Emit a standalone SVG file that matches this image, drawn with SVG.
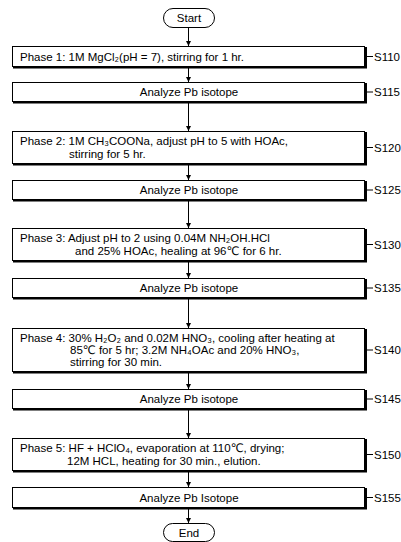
<svg xmlns="http://www.w3.org/2000/svg" width="401" height="542" viewBox="0 0 401 542">
<defs>
<marker id="ah" viewBox="0 0 6 6" refX="6" refY="3" markerWidth="5" markerHeight="5" orient="auto" markerUnits="userSpaceOnUse">
<path d="M0,0 L6,3 L0,6 Z" fill="#000"/>
</marker>
</defs>
<style>
text{font-family:"Liberation Sans","DejaVu Sans",Arial,sans-serif;font-size:11.5px;fill:#000}
.c{text-anchor:middle}
.box{fill:#fff;stroke:#000;stroke-width:1}
.sh{fill:none;stroke:#000;stroke-width:2}
.term{fill:#fff;stroke:#000;stroke-width:1}
.con{stroke:#000;stroke-width:1;fill:none}
.lab{stroke:#000;stroke-width:1}
</style>
<rect width="401" height="542" fill="#fff"/>
<g id="connectors">
<line class="con" x1="188.5" y1="27" x2="188.5" y2="46" marker-end="url(#ah)"/>
<line class="con" x1="188.5" y1="67" x2="188.5" y2="82" marker-end="url(#ah)"/>
<line class="con" x1="188.5" y1="102" x2="188.5" y2="131" marker-end="url(#ah)"/>
<line class="con" x1="188.5" y1="164" x2="188.5" y2="180" marker-end="url(#ah)"/>
<line class="con" x1="188.5" y1="200" x2="188.5" y2="228" marker-end="url(#ah)"/>
<line class="con" x1="188.5" y1="261" x2="188.5" y2="278" marker-end="url(#ah)"/>
<line class="con" x1="188.5" y1="298" x2="188.5" y2="328" marker-end="url(#ah)"/>
<line class="con" x1="188.5" y1="372" x2="188.5" y2="389" marker-end="url(#ah)"/>
<line class="con" x1="188.5" y1="409" x2="188.5" y2="438" marker-end="url(#ah)"/>
<line class="con" x1="188.5" y1="471" x2="188.5" y2="487" marker-end="url(#ah)"/>
<line class="con" x1="188.5" y1="508" x2="188.5" y2="523" marker-end="url(#ah)"/>
</g>
<g id="start">
<rect class="term" x="163.5" y="8.5" width="51" height="19" rx="9.5"/>
<text class="c" x="189" y="22">Start</text>
</g>
<g id="S110">
<rect class="box" x="12.5" y="46.5" width="352" height="20"/>
<path class="sh" d="M13,67.5 H366 V47"/>
<text x="20" y="60.5">Phase 1: 1M MgCl₂(pH = 7), stirring for 1 hr.</text>
<line class="lab" x1="366" y1="56.5" x2="373" y2="56.5"/>
<text x="374" y="60.5">S110</text>
</g>
<g id="S115">
<rect class="box" x="12.5" y="82.5" width="352" height="19"/>
<path class="sh" d="M13,102.5 H366 V83"/>
<text class="c" x="189" y="96">Analyze Pb isotope</text>
<line class="lab" x1="366" y1="92" x2="373" y2="92"/>
<text x="374" y="96">S115</text>
</g>
<g id="S120">
<rect class="box" x="12.5" y="131.5" width="352" height="32"/>
<path class="sh" d="M13,164.5 H366 V132"/>
<text x="20" y="145">Phase 2: 1M CH₃COONa, adjust pH to 5 with HOAc,</text>
<text x="69" y="157.5">stirring for 5 hr.</text>
<line class="lab" x1="366" y1="147.5" x2="373" y2="147.5"/>
<text x="374" y="151.5">S120</text>
</g>
<g id="S125">
<rect class="box" x="12.5" y="180.5" width="352" height="19"/>
<path class="sh" d="M13,200.5 H366 V181"/>
<text class="c" x="189" y="194">Analyze Pb isotope</text>
<line class="lab" x1="366" y1="190" x2="373" y2="190"/>
<text x="374" y="194">S125</text>
</g>
<g id="S130">
<rect class="box" x="12.5" y="228.5" width="352" height="32"/>
<path class="sh" d="M13,261.5 H366 V229"/>
<text x="20" y="242">Phase 3: Adjust pH to 2 using 0.04M NH₂OH.HCl</text>
<text x="75" y="254.5">and 25% HOAc, healing at 96℃ for 6 hr.</text>
<line class="lab" x1="366" y1="244.5" x2="373" y2="244.5"/>
<text x="374" y="248.5">S130</text>
</g>
<g id="S135">
<rect class="box" x="12.5" y="278.5" width="352" height="19"/>
<path class="sh" d="M13,298.5 H366 V279"/>
<text class="c" x="189" y="292">Analyze Pb isotope</text>
<line class="lab" x1="366" y1="288" x2="373" y2="288"/>
<text x="374" y="292">S135</text>
</g>
<g id="S140">
<rect class="box" x="12.5" y="328.5" width="352" height="43"/>
<path class="sh" d="M13,372.5 H366 V329"/>
<text x="20" y="341.5">Phase 4: 30% H₂O₂ and 0.02M HNO₃, cooling after heating at</text>
<text x="70" y="353.5">85℃ for 5 hr; 3.2M NH₄OAc and 20% HNO₃,</text>
<text x="70" y="365.5">stirring for 30 min.</text>
<line class="lab" x1="366" y1="350" x2="373" y2="350"/>
<text x="374" y="354">S140</text>
</g>
<g id="S145">
<rect class="box" x="12.5" y="389.5" width="352" height="19"/>
<path class="sh" d="M13,409.5 H366 V390"/>
<text class="c" x="189" y="403">Analyze Pb isotope</text>
<line class="lab" x1="366" y1="399" x2="373" y2="399"/>
<text x="374" y="403">S145</text>
</g>
<g id="S150">
<rect class="box" x="12.5" y="438.5" width="352" height="32"/>
<path class="sh" d="M13,471.5 H366 V439"/>
<text x="20" y="452">Phase 5: HF + HClO₄, evaporation at 110℃, drying;</text>
<text x="67" y="464.5">12M HCL, heating for 30 min., elution.</text>
<line class="lab" x1="366" y1="454.5" x2="373" y2="454.5"/>
<text x="374" y="458.5">S150</text>
</g>
<g id="S155">
<rect class="box" x="12.5" y="487.5" width="352" height="20"/>
<path class="sh" d="M13,508.5 H366 V488"/>
<text class="c" x="189" y="501.5">Analyze Pb Isotope</text>
<line class="lab" x1="366" y1="497.5" x2="373" y2="497.5"/>
<text x="374" y="501.5">S155</text>
</g>
<g id="end">
<rect class="term" x="163.5" y="523.5" width="51" height="18" rx="9"/>
<text class="c" x="189" y="536.5">End</text>
</g>
</svg>
